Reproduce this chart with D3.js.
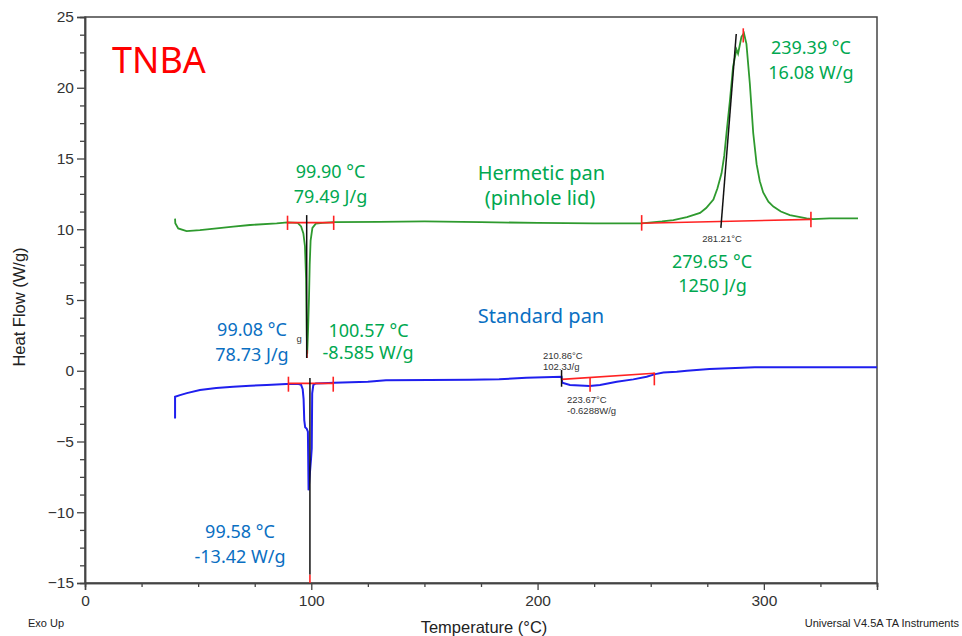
<!DOCTYPE html>
<html><head><meta charset="utf-8">
<script src="https://cdn.jsdelivr.net/npm/d3@7"></script>
<style>
body{margin:0;background:#fff;}
svg{display:block;}
</style></head>
<body>
<svg id="chart" width="962" height="636"></svg>
<script>
// ---------- data ----------
const xTickValues = [0, 100, 200, 300];
const yTickValues = [-15, -10, -5, 0, 5, 10, 15, 20, 25];
const xDomain = [0, 350];
const yDomain = [-15, 25];

// Hermetic pan (pinhole lid) – green trace
const greenTemp = [39.8, 39.9, 41.2, 44.9, 50.8, 58.2, 65.5, 72.9, 84.7, 89.5, 94, 95.5, 96.5, 97.2, 97.7, 98.0, 98.2, 98.6, 99.0, 99.3, 99.7, 100.5, 102, 105, 110, 130, 150, 175, 200, 225, 246, 255, 260, 266, 271.8, 274.5, 277.7, 279.5, 281.3, 282.5, 283.5, 285, 286.4, 287.9, 288.6, 290.1, 291.2, 292.3, 293.8, 295.3, 296.8, 298.2, 299.7, 302, 304.2, 307.5, 311.5, 318.9, 321.7, 329, 341.6];
const greenFlow = [10.75, 10.42, 10.06, 9.87, 9.94, 10.06, 10.18, 10.3, 10.42, 10.49, 10.45, 10.2, 9.7, 8.8, 6.5, 2.5, 1.2, 3.0, 5.2, 7.5, 9.2, 10.1, 10.4, 10.45, 10.5, 10.52, 10.55, 10.5, 10.45, 10.42, 10.42, 10.55, 10.65, 10.85, 11.15, 11.5, 12.1, 12.9, 13.95, 15.2, 16.8, 19.1, 21.5, 22.7, 22.4, 23.6, 23.85, 23.1, 20.3, 16.8, 14.6, 13.4, 12.6, 11.95, 11.6, 11.25, 11.0, 10.77, 10.72, 10.77, 10.77];

// Standard pan – blue trace
const blueTemp = [39.8, 39.8, 42, 45, 50.8, 58, 65.5, 73, 80.3, 89, 94, 95.5, 96.2, 96.6, 96.9, 97.3, 98.0, 98.5, 98.8, 99.4, 99.9, 100.2, 100.4, 100.9, 102, 105, 110, 125, 133, 152, 170, 183, 195, 210.6, 210.9, 214.3, 223, 227.6, 235, 242.3, 248.2, 252, 255.6, 261.5, 266, 276, 296, 350];
const blueFlow = [-3.37, -1.84, -1.72, -1.58, -1.36, -1.22, -1.13, -1.06, -1.01, -0.94, -0.93, -1.0, -1.3, -2.0, -3.5, -4.0, -4.1, -4.3, -8.45, -7.2, -6.2, -5.5, -1.6, -1.0, -0.9, -0.88, -0.85, -0.78, -0.68, -0.66, -0.63, -0.6, -0.5, -0.42, -0.85, -1.0, -1.08, -1.0, -0.77, -0.61, -0.42, -0.24, -0.12, -0.07, 0.0, 0.12, 0.24, 0.24];

// integration baselines (red) and onset/peak markers
const redBaselines = [
  [[89.5, 10.47], [109.9, 10.47]],
  [[246, 10.42], [321, 10.7]],
  [[89.9, -0.89], [109.7, -0.89]],
  [[210.6, -0.61], [251.6, -0.18]]
];
const redTicks = [
  [89.5, 10.96, 9.95], [109.9, 10.96, 9.95],
  [246, 11.0, 9.9], [320.8, 11.24, 10.14],
  [290.9, 24.2, 23.2], [98.1, 1.47, 0.9],
  [89.9, -0.42, -1.48], [109.7, -0.42, -1.48],
  [99.4, -14.4, -15], [223.2, -0.51, -1.48], [251.6, -0.12, -1.03]
];
const blackLines = [
  [[97.97, 11.0], [97.97, 0.9]],
  [[99.4, -0.51], [99.4, -14.4]],
  [[281.0, 10.1], [287.8, 23.8]],
  [[210.6, 0.05], [210.6, -1.13]]
];

// annotations: text, temperature, heat flow (baseline), colour key
const annoText  = ["99.90 °C", "79.49 J/g", "239.39 °C", "16.08 W/g", "279.65 °C", "1250 J/g", "100.57 °C", "-8.585 W/g", "99.08 °C", "78.73 J/g", "99.58 °C", "-13.42 W/g"];
const annoTemp  = [108.5, 108.5, 320.8, 320.8, 277.1, 277.3, 125.3, 125.1, 73.8, 73.8, 68.5, 68.5];
const annoFlow  = [13.62, 11.86, 22.38, 20.62, 7.26, 5.56, 2.42, 0.80, 2.49, 0.72, -11.82, -13.59];
const annoColor = ["g", "g", "g", "g", "g", "g", "g", "g", "b", "b", "b", "b"];

const labelText = ["Hermetic pan", "(pinhole lid)", "Standard pan"];
const labelTemp = [201.7, 201.1, 201.5];
const labelFlow = [13.45, 11.71, 3.35];
const labelColor = ["g", "g", "b"];

const smallText = ["281.21°C", "210.86°C", "102.3J/g", "223.67°C", "-0.6288W/g", "g"];
const smallTemp = [281.5, 202.4, 202.4, 213.0, 213.0, 94.6];
const smallFlow = [9.07, 0.80, 0.05, -2.28, -3.06, 2.0];
const smallAnchor = ["middle", "start", "start", "start", "start", "middle"];

// ---------- drawing ----------
const svg = d3.select("#chart");
const x = d3.scaleLinear().domain(xDomain).range([85, 877]);
const y = d3.scaleLinear().domain(yDomain).range([583, 17]);
const axisColor = "#444";

// frame
svg.append("rect").attr("x", x(0)).attr("y", y(25))
  .attr("width", x(350) - x(0)).attr("height", y(-15) - y(25))
  .attr("fill", "none").attr("stroke", axisColor).attr("stroke-width", 1.5);

// minor ticks
const xMinor = d3.range(0, 351, 25).filter(v => v % 100 !== 0);
const yMinor = d3.range(-15, 25.01, 1.25).filter(v => Math.abs(v % 5) > 1e-6);
const gxMin = svg.append("g").attr("transform", `translate(0,${y(-15)})`)
  .call(d3.axisBottom(x).tickValues(xMinor).tickSize(4).tickFormat(""));
const gyMin = svg.append("g").attr("transform", `translate(${x(0)},0)`)
  .call(d3.axisLeft(y).tickValues(yMinor).tickSize(5).tickFormat(""));
// major
const gx = svg.append("g").attr("transform", `translate(0,${y(-15)})`)
  .call(d3.axisBottom(x).tickValues(xTickValues).tickSize(7).tickPadding(5).tickFormat(d3.format("d")));
const gy = svg.append("g").attr("transform", `translate(${x(0)},0)`)
  .call(d3.axisLeft(y).tickValues(yTickValues).tickSize(8).tickPadding(3).tickFormat(d3.format("d")));
[gx, gy, gxMin, gyMin].forEach(g => {
  g.select(".domain").attr("stroke", axisColor).attr("stroke-width", 1.5);
  g.selectAll(".tick line").attr("stroke", axisColor).attr("stroke-width", 1.3);
  g.selectAll(".tick text").attr("fill", "#333")
    .style("font-family", "'Liberation Sans', Arial, sans-serif").style("font-size", "15.5px");
});

// axis titles
svg.append("text").attr("x", 484).attr("y", 633).attr("text-anchor", "middle")
  .style("font-family", "'Liberation Sans', Arial, sans-serif").style("font-size", "16.5px").attr("fill", "#222")
  .text("Temperature (°C)");
svg.append("text").attr("transform", "translate(25,307) rotate(-90)").attr("text-anchor", "middle")
  .style("font-family", "'Liberation Sans', Arial, sans-serif").style("font-size", "16.5px").attr("fill", "#222")
  .text("Heat Flow (W/g)");
svg.append("text").attr("x", 28).attr("y", 627)
  .style("font-family", "'Liberation Sans', Arial, sans-serif").style("font-size", "11px").attr("fill", "#222")
  .text("Exo Up");
svg.append("text").attr("x", 959).attr("y", 627).attr("text-anchor", "end")
  .style("font-family", "'Liberation Sans', Arial, sans-serif").style("font-size", "11px").attr("fill", "#222")
  .text("Universal V4.5A TA Instruments");

const line = d3.line().x(d => x(d[0])).y(d => y(d[1]));

// curves
const green = greenTemp.map((t, i) => [t, greenFlow[i]]);
const blue = blueTemp.map((t, i) => [t, blueFlow[i]]);
svg.append("path").attr("d", line(green)).attr("fill", "none").attr("stroke", "#2e9a2e").attr("stroke-width", 1.8);
svg.append("path").attr("d", line(blue)).attr("fill", "none").attr("stroke", "#1f1fee").attr("stroke-width", 2);

// red baselines & ticks
redBaselines.forEach(seg => svg.append("path").attr("d", line(seg))
  .attr("fill", "none").attr("stroke", "#f22").attr("stroke-width", 1.6));
redTicks.forEach(t => svg.append("line")
  .attr("x1", x(t[0])).attr("x2", x(t[0])).attr("y1", y(t[1])).attr("y2", y(t[2]))
  .attr("stroke", "#f22").attr("stroke-width", 1.6));
// black markers
blackLines.forEach(seg => svg.append("path").attr("d", line(seg))
  .attr("fill", "none").attr("stroke", "#111").attr("stroke-width", 1.5));

// annotations
const colors = { g: "#00a850", b: "#0a6fc2" };
annoText.forEach((t, i) => svg.append("text")
  .attr("x", x(annoTemp[i])).attr("y", y(annoFlow[i])).attr("text-anchor", "middle")
  .style("font-family", "'Noto Sans', 'Open Sans', sans-serif").style("font-size", "18px")
  .attr("fill", colors[annoColor[i]]).text(t));
labelText.forEach((t, i) => svg.append("text")
  .attr("x", x(labelTemp[i])).attr("y", y(labelFlow[i])).attr("text-anchor", "middle")
  .style("font-family", "'Noto Sans', 'Open Sans', sans-serif").style("font-size", "20px")
  .attr("fill", colors[labelColor[i]]).text(t));
smallText.forEach((t, i) => svg.append("text")
  .attr("x", x(smallTemp[i])).attr("y", y(smallFlow[i])).attr("text-anchor", smallAnchor[i])
  .style("font-family", "'Liberation Sans', Arial, sans-serif").style("font-size", "9.5px")
  .attr("fill", "#333").text(t));

// title
svg.append("text").attr("x", x(32.7)).attr("y", y(21.04)).attr("text-anchor", "middle")
  .style("font-family", "'Noto Sans', 'Open Sans', sans-serif").style("font-size", "36px")
  .attr("fill", "#ff0000").text("TNBA");
</script>
</body></html>
